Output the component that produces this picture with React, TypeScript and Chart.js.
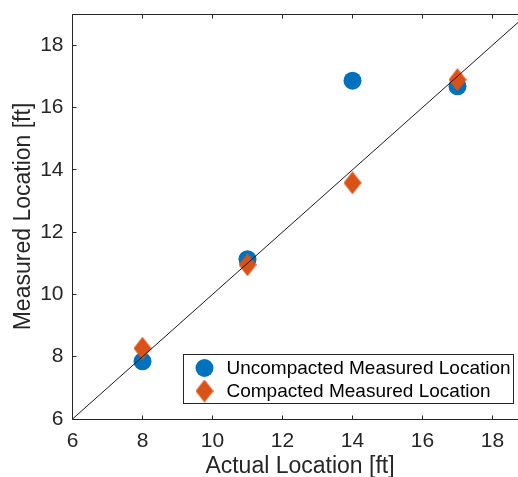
import React, { useEffect, useRef } from "react";
import { Chart, registerables } from "chart.js";

Chart.register(...registerables);

// ---- data ----
const actualLocation = [8, 11, 14, 17];
const uncompactedMeasured = [7.85, 11.13, 16.86, 16.68];
const compactedMeasured = [8.27, 10.95, 13.58, 16.89];
const seriesLabels = ["Uncompacted Measured Location", "Compacted Measured Location"];
const xTicks = [6, 8, 10, 12, 14, 16, 18];
const yTicks = [6, 8, 10, 12, 14, 16, 18];
const xRange = [6, 19];
const yRange = [6, 19];
const referenceLine = [6, 19];
const xTitle = "Actual Location [ft]";
const yTitle = "Measured Location [ft]";

const BLUE = "#0072BD";
const ORANGE = "#D95319";
const AXIS = "#262626";
const FONT = "'Liberation Sans', Arial, Helvetica, sans-serif";

function makeDiamond(w: number, h: number, color: string) {
  const c = document.createElement("canvas");
  c.width = w;
  c.height = h;
  const ctx = c.getContext("2d")!;
  ctx.fillStyle = color;
  ctx.beginPath();
  ctx.moveTo(w / 2, 0);
  ctx.lineTo(w, h / 2);
  ctx.lineTo(w / 2, h);
  ctx.lineTo(0, h / 2);
  ctx.closePath();
  ctx.fill();
  return c;
}

function zeroPadding(s: any) {
  s.paddingTop = 0;
  s.paddingBottom = 0;
  s.paddingLeft = 0;
  s.paddingRight = 0;
}

export default function App() {
  const ref = useRef<HTMLCanvasElement | null>(null);

  useEffect(() => {
    if (!ref.current) return;
    const diamond = makeDiamond(18, 23, ORANGE);
    const crisp = (v: number) => Math.round(v - 0.5) + 0.5;

    const boxPlugin = {
      id: "matlabBox",
      afterDatasetsDraw(chart: any) {
        const { ctx, chartArea: a, scales } = chart;
        const l = crisp(a.left), r = crisp(a.right), t = crisp(a.top), b = crisp(a.bottom);
        ctx.save();
        ctx.strokeStyle = AXIS;
        ctx.lineWidth = 1;
        ctx.beginPath();
        ctx.rect(l, t, r - l, b - t);
        const tl = 4;
        xTicks.forEach((v) => {
          const px = crisp(scales.x.getPixelForValue(v));
          ctx.moveTo(px, b);
          ctx.lineTo(px, b - tl);
          ctx.moveTo(px, t);
          ctx.lineTo(px, t + tl);
        });
        yTicks.forEach((v) => {
          const py = crisp(scales.y.getPixelForValue(v));
          ctx.moveTo(l, py);
          ctx.lineTo(l + tl, py);
          ctx.moveTo(r, py);
          ctx.lineTo(r - tl, py);
        });
        ctx.stroke();
        ctx.restore();
      },
    };

    const legendPlugin = {
      id: "insideLegend",
      afterDraw(chart: any) {
        const { ctx, chartArea: a } = chart;
        const w = 330;
        const h = 49;
        const x = Math.round(a.right - 14.5 - w) + 0.5;
        const y = Math.round(a.bottom - 16.5 - h) + 0.5;
        ctx.save();
        ctx.fillStyle = "#ffffff";
        ctx.strokeStyle = AXIS;
        ctx.lineWidth = 1;
        ctx.fillRect(x, y, w, h);
        ctx.strokeRect(x, y, w, h);
        const rows = [y + 13.5, y + 36.5];
        const mx = x + 21;
        ctx.fillStyle = BLUE;
        ctx.beginPath();
        ctx.arc(mx, rows[0], 9, 0, Math.PI * 2);
        ctx.fill();
        ctx.drawImage(diamond, mx - diamond.width / 2, rows[1] - diamond.height / 2);
        ctx.fillStyle = "#000000";
        ctx.font = `19px ${FONT}`;
        ctx.textBaseline = "middle";
        ctx.textAlign = "left";
        ctx.fillText(seriesLabels[0], x + 43, rows[0] + 1);
        ctx.fillText(seriesLabels[1], x + 43, rows[1] + 1);
        ctx.restore();
      },
    };

    const chart = new Chart(ref.current, {
      type: "scatter",
      data: {
        datasets: [
          {
            type: "line",
            label: "y = x",
            data: referenceLine.map((v) => ({ x: v, y: v })),
            borderColor: "#1a1a1a",
            borderWidth: 1,
            pointRadius: 0,
            fill: false,
            order: 0,
          } as any,
          {
            label: seriesLabels[1],
            data: actualLocation.map((x, i) => ({ x, y: compactedMeasured[i] })),
            pointStyle: diamond as any,
            pointRadius: 9,
            backgroundColor: ORANGE,
            borderWidth: 0,
            order: 1,
          },
          {
            label: seriesLabels[0],
            data: actualLocation.map((x, i) => ({ x, y: uncompactedMeasured[i] })),
            pointStyle: "circle",
            pointRadius: 9,
            backgroundColor: BLUE,
            borderWidth: 0,
            order: 2,
          },
        ],
      },
      options: {
        animation: false,
        responsive: false,
        maintainAspectRatio: false,
        layout: { padding: { top: 14, right: 9.5, bottom: 0, left: 0 } },
        plugins: {
          legend: { display: false },
          tooltip: { enabled: false },
        },
        scales: {
          x: {
            type: "linear",
            min: xRange[0],
            max: xRange[1],
            grid: { display: false, drawTicks: false },
            border: { display: false },
            afterBuildTicks: (s: any) => {
              s.ticks = xTicks.map((v) => ({ value: v }));
            },
            afterFit: (s: any) => {
              s.height = 58;
              zeroPadding(s);
            },
            ticks: {
              color: AXIS,
              font: { family: FONT, size: 21 },
              padding: 10,
              maxRotation: 0,
              autoSkip: false,
            },
            title: {
              display: true,
              text: xTitle,
              color: AXIS,
              font: { family: FONT, size: 23, lineHeight: 0.9 },
              padding: { top: 0, bottom: 0 },
            },
          },
          y: {
            type: "linear",
            min: yRange[0],
            max: yRange[1],
            grid: { display: false, drawTicks: false },
            border: { display: false },
            afterBuildTicks: (s: any) => {
              s.ticks = yTicks.map((v) => ({ value: v }));
            },
            afterFit: (s: any) => {
              s.width = 72.5;
              zeroPadding(s);
            },
            ticks: {
              color: AXIS,
              font: { family: FONT, size: 21 },
              padding: 9,
              autoSkip: false,
            },
            title: {
              display: true,
              text: yTitle,
              color: AXIS,
              font: { family: FONT, size: 23, lineHeight: 0.9 },
              padding: { top: 13.5, bottom: 0 },
            },
          },
        },
      },
      plugins: [boxPlugin, legendPlugin],
    } as any);

    return () => chart.destroy();
  }, []);

  return (
    <div
      style={{
        position: "fixed",
        left: 0,
        top: 0,
        width: 518,
        height: 477,
        overflow: "hidden",
        background: "#ffffff",
      }}
    >
      <canvas ref={ref} width={537} height={477} style={{ display: "block" }} />
    </div>
  );
}
